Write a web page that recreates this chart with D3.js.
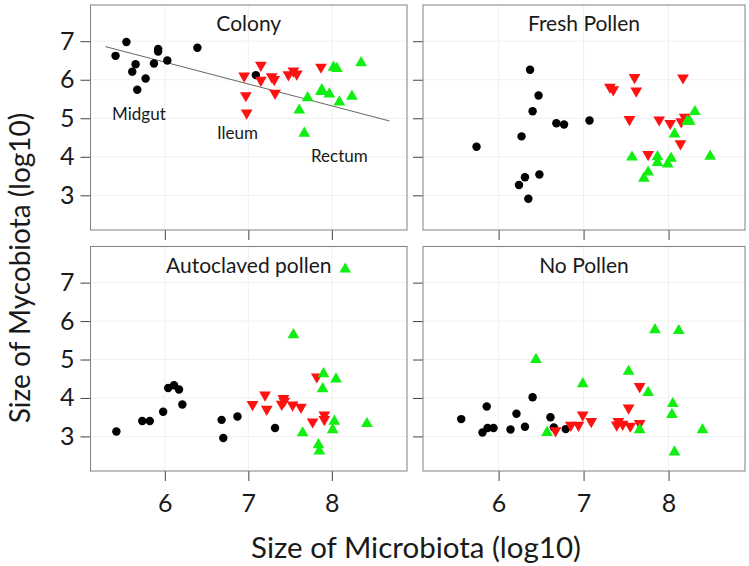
<!DOCTYPE html>
<meta charset="utf-8">
<script src="https://d3js.org/d3.v7.min.js"></script>
<style>
  body { margin: 0; background: #fff; }
  text { font-family: Lato, "Open Sans", sans-serif; fill: #1a1a1a; }
</style>
<div id="my_dataviz"></div>
<script>

// panel names
const panels = ["Colony", "Fresh Pollen", "Autoclaved pollen", "No Pollen"];

// tick labels
const xTicks = [6, 7, 8];
const yTicks = [3, 4, 5, 6, 7];

// Midgut (black circles), x = microbiota, y = mycobiota
const midgutX = [
  [5.41, 5.54, 5.65, 5.61, 5.67, 5.77, 5.87, 5.92, 5.92, 6.03, 6.39, 7.09],
  [5.74, 6.37, 6.47, 6.40, 6.27, 6.68, 6.77, 7.07, 6.31, 6.24, 6.48, 6.35],
  [5.42, 5.73, 5.82, 5.98, 6.04, 6.11, 6.17, 6.21, 6.68, 6.70, 6.87, 7.32],
  [5.56, 5.86, 5.81, 5.87, 5.94, 6.14, 6.21, 6.31, 6.40, 6.61, 6.65, 6.79]
];
const midgutY = [
  [6.62, 6.98, 6.40, 6.21, 5.74, 6.03, 6.42, 6.73, 6.80, 6.50, 6.83, 6.12],
  [4.26, 6.26, 5.59, 5.18, 4.53, 4.87, 4.84, 4.94, 3.47, 3.27, 3.54, 2.91],
  [3.13, 3.40, 3.40, 3.64, 4.26, 4.33, 4.22, 3.83, 3.43, 2.96, 3.52, 3.22],
  [3.45, 3.78, 3.10, 3.22, 3.22, 3.18, 3.59, 3.25, 4.02, 3.50, 3.23, 3.19]
];

// Ileum (red down triangles)
const ileumX = [
  [6.95, 6.97, 6.98, 7.15, 7.15, 7.28, 7.31, 7.32, 7.48, 7.54, 7.58, 7.87],
  [7.31, 7.35, 7.60, 7.62, 8.17, 7.54, 7.89, 8.02, 8.15, 8.19, 8.14, 7.76],
  [7.05, 7.20, 7.22, 7.42, 7.40, 7.43, 7.53, 7.63, 7.77, 7.82, 7.91, 7.91],
  [6.67, 6.85, 6.94, 6.99, 7.09, 7.39, 7.41, 7.46, 7.55, 7.53, 7.66, 7.66]
];
const ileumY = [
  [6.10, 5.59, 5.14, 6.38, 5.99, 6.08, 6.01, 5.65, 6.13, 6.23, 6.15, 6.33],
  [5.81, 5.74, 6.06, 5.71, 6.05, 4.97, 4.96, 4.87, 4.91, 5.03, 4.34, 4.06],
  [3.83, 4.08, 3.71, 3.99, 3.84, 3.92, 3.82, 3.76, 3.38, 4.55, 3.56, 3.44],
  [3.15, 3.29, 3.29, 3.56, 3.39, 3.30, 3.39, 3.32, 3.27, 3.74, 3.34, 4.30]
];

// Rectum (green up triangles)
const rectumX = [
  [7.61, 7.71, 7.67, 7.87, 7.88, 7.97, 8.02, 8.06, 8.09, 8.24, 8.35],
  [8.31, 8.22, 8.25, 8.07, 7.57, 7.87, 8.03, 7.87, 7.99, 7.76, 7.71, 8.49],
  [8.16, 7.54, 7.90, 8.05, 7.89, 7.65, 8.03, 8.01, 8.42, 7.84, 7.85],
  [6.44, 6.57, 6.99, 7.53, 7.76, 7.66, 7.84, 8.12, 8.05, 8.04, 8.40, 8.07]
];
const rectumY = [
  [5.21, 5.53, 4.61, 5.69, 5.74, 5.63, 6.32, 6.29, 5.42, 5.57, 6.44],
  [5.17, 4.92, 4.92, 4.59, 3.99, 4.00, 3.96, 3.85, 3.81, 3.60, 3.44, 4.01],
  [7.35, 5.64, 4.63, 4.49, 4.24, 3.09, 3.39, 3.17, 3.33, 2.78, 2.62],
  [5.00, 3.10, 4.37, 4.69, 4.14, 3.17, 5.77, 5.75, 3.85, 3.57, 3.17, 2.59]
];

// regression line in the Colony panel (end points)
const fitX = [5.29, 8.69];
const fitY = [6.86, 4.93];

// region labels in the Colony panel
const regionLabels = ["Midgut", "Ileum", "Rectum"];
const regionX = [5.69, 6.87, 8.09];
const regionY = [5.11, 4.61, 4.03];

const W = 749, H = 566;
const cols = [[90.5, 407], [423, 745]];
const rows = [[5, 230], [246.5, 471]];

const svg = d3.select("#my_dataviz")
  .append("svg")
    .attr("width", W)
    .attr("height", H);

const tri = d3.symbol().type(d3.symbolTriangle).size(60)();
const circ = d3.symbol().type(d3.symbolCircle).size(56)();

panels.forEach(function(name, i) {
  const c = cols[i % 2], r = rows[Math.floor(i / 2)];
  const x = d3.scaleLinear().domain([5.11, 8.9]).range(c);
  const y = d3.scaleLinear().domain([2.1, 7.94]).range([r[1], r[0]]);

  const g = svg.append("g");

  // grid
  g.selectAll(".gx").data(xTicks).join("line")
    .attr("x1", d => x(d)).attr("x2", d => x(d))
    .attr("y1", r[0]).attr("y2", r[1])
    .attr("stroke", "#f0f0f0").attr("stroke-width", 1);
  g.selectAll(".gy").data(yTicks).join("line")
    .attr("y1", d => y(d)).attr("y2", d => y(d))
    .attr("x1", c[0]).attr("x2", c[1])
    .attr("stroke", "#f0f0f0").attr("stroke-width", 1);

  // axes
  const ax = g.append("g")
    .attr("transform", `translate(0, ${r[1]})`)
    .call(d3.axisBottom(x).tickValues(xTicks).tickSize(10).tickPadding(13)
      .tickFormat(i >= 2 ? d3.format("d") : ""));
  const ay = g.append("g")
    .attr("transform", `translate(${c[0]}, 0)`)
    .call(d3.axisLeft(y).tickValues(yTicks).tickSize(10).tickPadding(6)
      .tickFormat(i % 2 == 0 ? d3.format("d") : ""));
  [ax, ay].forEach(a => {
    a.select(".domain").remove();
    a.selectAll(".tick line").attr("stroke", "#444");
    a.selectAll(".tick text")
      .style("font-family", "Lato, sans-serif")
      .style("font-size", "25px")
      .attr("fill", "#1a1a1a");
  });

  // regression line
  if (i == 0) {
    g.append("line")
      .attr("x1", x(fitX[0])).attr("y1", y(fitY[0]))
      .attr("x2", x(fitX[1])).attr("y2", y(fitY[1]))
      .attr("stroke", "#666").attr("stroke-width", 1);
  }

  const pts = (xs, ys) => xs.map((d, k) => ({x: d, y: ys[k]}));

  g.selectAll(".mid").data(pts(midgutX[i], midgutY[i])).join("path")
    .attr("d", circ)
    .attr("transform", d => `translate(${x(d.x)}, ${y(d.y)})`)
    .attr("fill", "black");
  g.selectAll(".ile").data(pts(ileumX[i], ileumY[i])).join("path")
    .attr("d", tri)
    .attr("transform", d => `translate(${x(d.x)}, ${y(d.y)}) rotate(180)`)
    .attr("fill", "#ff1111");
  g.selectAll(".rec").data(pts(rectumX[i], rectumY[i])).join("path")
    .attr("d", tri)
    .attr("transform", d => `translate(${x(d.x)}, ${y(d.y)})`)
    .attr("fill", "#11ee11");

  // border
  g.append("rect")
    .attr("x", c[0]).attr("y", r[0])
    .attr("width", c[1] - c[0]).attr("height", r[1] - r[0])
    .attr("fill", "none").attr("stroke", "#808080").attr("stroke-width", 1);

  // panel title
  g.append("text")
    .attr("x", (c[0] + c[1]) / 2)
    .attr("y", r[0] + 26)
    .attr("text-anchor", "middle")
    .style("font-size", "21px")
    .text(name);

  if (i == 0) {
    g.selectAll(".lab").data(regionLabels).join("text")
      .attr("x", (d, k) => x(regionX[k]))
      .attr("y", (d, k) => y(regionY[k]) + 6)
      .attr("text-anchor", "middle")
      .style("font-size", "17px")
      .text(d => d);
  }
});

// axis titles
svg.append("text")
  .attr("x", 416)
  .attr("y", 558)
  .attr("text-anchor", "middle")
  .style("font-size", "29.5px")
  .text("Size of Microbiota (log10)");

svg.append("text")
  .attr("transform", "translate(30, 268) rotate(-90)")
  .attr("text-anchor", "middle")
  .style("font-size", "28px")
  .text("Size of Mycobiota (log10)");

</script>
